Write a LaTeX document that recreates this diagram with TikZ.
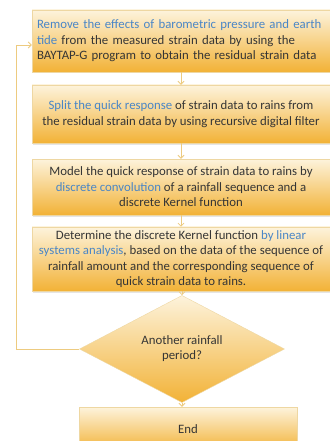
\documentclass[tikz,border=0pt]{standalone}
\usepackage{fontspec}
\setmainfont{Carlito}
\usetikzlibrary{shapes.geometric,arrows.meta,shadows}
\definecolor{boxtop}{HTML}{FDF3DC}
\definecolor{boxbot}{HTML}{F2B236}
\definecolor{boxedge}{HTML}{EED7A2}
\definecolor{flowline}{HTML}{EDCB80}
\definecolor{txtgray}{HTML}{353535}
\definecolor{kwblue}{HTML}{4A86C6}
\newcommand{\kw}[1]{\textcolor{kwblue}{#1}}
\tikzset{
  stepbox/.style={draw=boxedge, top color=boxtop, bottom color=boxbot,
    minimum width=298pt, text=txtgray, align=center,
    font=\fontsize{12.8}{15.5}\selectfont,
    drop shadow={opacity=0.2, shadow xshift=0.6pt, shadow yshift=-1.5pt}},
  decision/.style={diamond, draw=boxedge, top color=boxtop, bottom color=boxbot,
    minimum width=205pt, minimum height=72pt, inner sep=0pt, text=txtgray,
    align=center, font=\fontsize{12.8}{15}\selectfont},
  flow/.style={draw=flowline, line width=0.8pt,
    -{Straight Barb[length=3pt,width=6pt]}}
}
\begin{document}
\begin{tikzpicture}[x=1pt,y=-1pt]
  \useasboundingbox[fill=white] (0,0) rectangle (329,441);
  % process steps
  \node[stepbox, minimum height=62pt, text width=288pt, inner xsep=5pt, align=left] (remove) at (181,41)
    {\kw{Remove the effects of barometric pressure and earth}\\
     \kw{tide} from the measured strain data by using the\\
     BAYTAP-G program to obtain the residual strain data};
  \node[stepbox, minimum height=58pt] (split) at (181,114)
    {\kw{Split the quick response} of strain data to rains from\\
     the residual strain data by using recursive digital filter};
  \node[stepbox, minimum height=56pt] (model) at (181,187)
    {Model the quick response of strain data to rains by\\
     \kw{discrete convolution} of a rainfall sequence and a\\
     discrete Kernel function};
  \node[stepbox, minimum height=64pt] (kernel) at (181,259)
    {Determine the discrete Kernel function \kw{by linear}\\
     \kw{systems analysis}, based on the data of the sequence of\\
     rainfall amount and the corresponding sequence of\\
     quick strain data to rains.};
  \node[decision] (another) at (182,349) {Another rainfall\\period?};
  \node[stepbox, minimum width=218pt, minimum height=44pt] (end) at (188,429) {End};

  % connectors
  \draw[flow] (remove) -- (split);
  \draw[flow] (split) -- (model);
  \draw[flow] (model) -- (kernel);
  \draw[flow] (kernel.south -| another.north) -- (another);
  \draw[flow] (another.south) -- (another.south |- end.north);
  \coordinate (back) at (16,349);
  \draw[flow] (another.west) -- (back) |- ([yshift=-4pt]remove.west);
\end{tikzpicture}
\end{document}
